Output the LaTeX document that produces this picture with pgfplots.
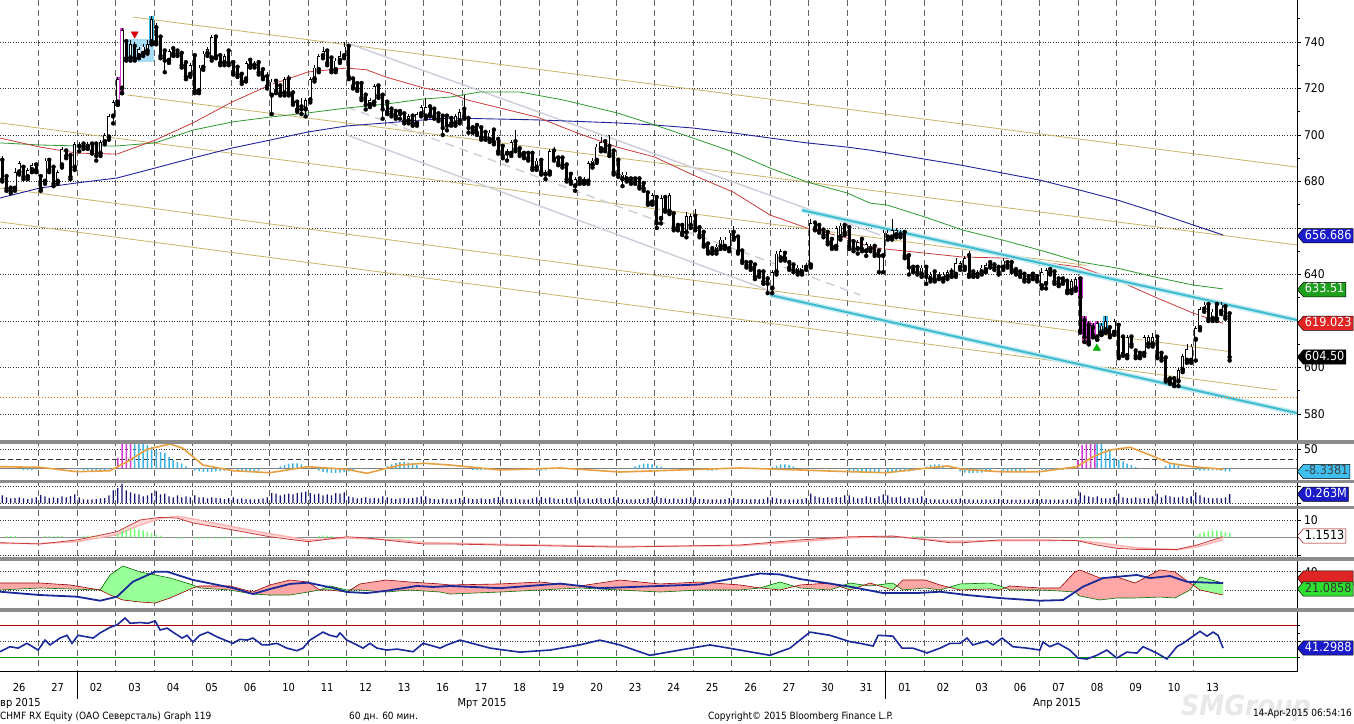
\documentclass[border=0pt]{standalone}
\usepackage{pgfplots}
\pgfplotsset{compat=1.18}
\usepackage{pgfplotstable}
\usetikzlibrary{shapes.symbols}
\usepackage{fontspec}
\setmainfont{DejaVu Sans Condensed}

\definecolor{olv}{HTML}{C8B466}
\definecolor{maR}{HTML}{C83C3C}
\definecolor{maG}{HTML}{2E9A2E}
\definecolor{maB}{HTML}{22229A}
\definecolor{gry}{HTML}{CDCEDA}
\definecolor{cyn}{HTML}{3DBCD0}
\definecolor{sepc}{HTML}{8C8C8C}
\definecolor{volc}{HTML}{141470}
\definecolor{hcy}{HTML}{3CB4E6}
\definecolor{hmg}{HTML}{D23CD2}
\definecolor{orl}{HTML}{E8A040}
\definecolor{tagB}{HTML}{1A1AC8}
\definecolor{tagG}{HTML}{1EA01E}
\definecolor{tagR}{HTML}{E02424}
\definecolor{tagC}{HTML}{40C0F0}
\definecolor{tagLG}{HTML}{30E030}
\definecolor{rsiB}{HTML}{1A2A9A}

\pgfplotstableread{
t o h l c v
0.06 689 691 680 681 0.23
0.17 682 683 676 677 0.17
0.28 677 678 675 676 0.14
0.39 677 686 676 684 0.15
0.50 684 689 683 688 0.17
0.61 686 687 681 682 0.14
0.72 682 686 681 685 0.12
0.83 685 688 684 687 0.14
0.94 687 688 684 685 0.17
1.06 682 683 676 677 0.24
1.17 680 690 679 689 0.20
1.28 689 690 684 685 0.15
1.39 686 687 678 679 0.17
1.50 680 685 679 684 0.15
1.61 687 695 686 694 0.20
1.72 693 694 690 691 0.17
1.83 691 692 681 682 0.21
1.94 686 697 685 696 0.26
2.06 695 697 693 696 0.17
2.17 696 697 694 695 0.11
2.28 695 697 694 696 0.10
2.39 696 697 692 693 0.11
2.50 696 697 689 691 0.12
2.61 692 698 691 697 0.14
2.72 697 701 696 700 0.15
2.83 699 709 698 708 0.23
2.94 708 715 705 714 0.38
3.06 714 725 713 724 0.45
3.17 720 746 718 745 0.58
3.28 740 741 732 733 0.38
3.39 733 741 732 739 0.32
3.50 738 740 732 733 0.28
3.61 734 738 733 737 0.26
3.72 735 739 734 738 0.20
3.83 736 741 735 739 0.23
3.94 740 751 739 750 0.30
4.06 746 748 739 740 0.36
4.17 742 743 733 734 0.26
4.28 736 737 727 732 0.28
4.39 732 737 731 736 0.20
4.50 737 738 734 735 0.17
4.61 736 737 734 735 0.23
4.72 735 736 729 730 0.17
4.83 731 732 724 725 0.20
4.94 726 731 725 730 0.17
5.06 734 735 718 719 0.23
5.17 719 730 718 729 0.17
5.28 729 736 728 735 0.17
5.39 735 738 734 737 0.14
5.50 733 743 732 742 0.17
5.61 742 743 733 734 0.15
5.72 734 735 730 731 0.14
5.83 731 735 730 734 0.12
5.94 736 737 730 731 0.15
6.06 731 732 726 727 0.17
6.17 729 730 725 726 0.12
6.28 726 727 722 723 0.14
6.39 724 732 723 731 0.12
6.50 732 733 729 730 0.11
6.61 730 732 729 731 0.11
6.72 731 732 726 727 0.12
6.83 728 729 724 725 0.14
6.94 725 727 720 721 0.17
7.06 717 724 709 723 0.30
7.17 723 724 718 719 0.28
7.28 721 722 717 718 0.23
7.39 718 725 717 724 0.26
7.50 724 726 717 718 0.28
7.61 718 719 713 714 0.26
7.72 714 715 710 711 0.30
7.83 712 716 709 711 0.32
7.94 711 716 708 715 0.34
8.06 715 725 714 724 0.30
8.17 724 730 723 729 0.26
8.28 728 735 727 734 0.28
8.39 734 738 733 736 0.23
8.50 736 737 730 731 0.26
8.61 733 734 727 728 0.23
8.72 728 733 727 732 0.30
8.83 732 736 731 734 0.28
8.94 734 740 733 738 0.32
9.06 738 739 724 725 0.20
9.17 724 725 720 721 0.17
9.28 722 723 719 720 0.14
9.39 722 723 715 716 0.15
9.50 717 718 711 713 0.17
9.61 713 716 712 715 0.14
9.72 714 722 713 721 0.15
9.83 721 722 716 717 0.14
9.94 717 718 707 711 0.20
10.06 714 715 709 710 0.17
10.17 711 712 708 709 0.14
10.28 710 711 707 708 0.12
10.39 710 711 707 709 0.14
10.50 709 710 705 706 0.15
10.61 706 709 705 708 0.14
10.72 708 709 704 705 0.15
10.83 705 710 704 709 0.17
10.94 709 713 708 712 0.20
11.06 708 716 707 712 0.20
11.17 712 713 708 709 0.14
11.28 711 712 707 708 0.12
11.39 709 710 706 707 0.11
11.50 708 709 700 703 0.14
11.61 708 709 702 704 0.12
11.72 707 708 704 705 0.11
11.83 705 709 704 708 0.12
11.94 706 711 705 710 0.15
12.06 711 717 707 708 0.18
12.17 707 708 701 703 0.14
12.28 703 704 701 702 0.12
12.39 704 705 700 701 0.12
12.50 703 704 698 699 0.14
12.61 701 702 698 699 0.12
12.72 698 702 697 701 0.12
12.83 702 703 696 697 0.15
12.94 698 699 692 693 0.18
13.06 695 696 690 691 0.17
13.17 692 694 689 693 0.12
13.28 692 698 691 697 0.12
13.39 697 702 693 694 0.14
13.50 694 695 691 692 0.11
13.61 692 693 690 691 0.11
13.72 692 693 689 690 0.11
13.83 692 693 685 686 0.14
13.94 686 690 685 689 0.17
14.06 689 690 683 684 0.18
14.17 683 685 681 684 0.14
14.28 684 694 683 693 0.17
14.39 693 695 689 690 0.14
14.50 690 691 687 688 0.12
14.61 690 691 686 687 0.12
14.72 687 688 680 681 0.15
14.83 683 684 679 680 0.14
14.94 678 682 676 681 0.18
15.06 681 682 679 680 0.17
15.17 680 682 679 681 0.12
15.28 680 689 679 688 0.14
15.39 687 690 686 689 0.12
15.50 689 696 688 695 0.14
15.61 694 699 693 697 0.15
15.72 697 698 693 694 0.12
15.83 695 700 691 692 0.14
15.94 693 694 683 684 0.18
16.06 689 690 682 683 0.17
16.17 681 684 678 683 0.12
16.28 681 684 680 683 0.11
16.39 681 682 679 680 0.11
16.50 681 682 679 680 0.11
16.61 681 682 677 678 0.12
16.72 679 680 676 677 0.12
16.83 675 676 670 671 0.15
16.94 671 675 670 674 0.17
17.06 673 674 660 662 0.20
17.17 664 674 662 673 0.15
17.28 673 674 667 668 0.14
17.39 667 675 666 674 0.12
17.50 666 667 659 660 0.14
17.61 661 662 659 660 0.12
17.72 661 662 657 658 0.12
17.83 658 667 656 665 0.14
17.94 661 666 660 665 0.17
18.06 665 668 659 660 0.17
18.17 660 661 656 657 0.12
18.28 658 659 652 653 0.12
18.39 653 654 649 650 0.11
18.50 651 652 649 650 0.11
18.61 650 653 649 652 0.11
18.72 652 656 651 655 0.11
18.83 652 656 651 655 0.12
18.94 651 659 650 658 0.15
19.06 658 661 655 656 0.15
19.17 656 657 649 650 0.12
19.28 650 651 645 646 0.12
19.39 645 646 643 644 0.11
19.50 645 646 642 643 0.11
19.61 644 645 638 639 0.12
19.72 641 642 639 640 0.11
19.83 641 642 636 637 0.12
19.94 638 639 632 636 0.17
20.06 634 642 632 641 0.17
20.17 641 650 640 649 0.14
20.28 647 651 646 650 0.12
20.39 649 650 646 647 0.11
20.50 645 646 642 643 0.11
20.61 644 645 641 642 0.11
20.72 641 644 640 643 0.11
20.83 641 644 640 643 0.12
20.94 643 645 642 644 0.15
21.06 644 664 643 662 0.28
21.17 662 663 659 660 0.20
21.28 661 662 658 659 0.17
21.39 659 660 656 657 0.15
21.50 658 659 653 654 0.17
21.61 655 656 651 652 0.15
21.72 652 661 651 660 0.18
21.83 656 662 655 661 0.17
21.94 661 662 657 658 0.23
22.06 660 661 651 652 0.23
22.17 654 655 650 651 0.17
22.28 651 655 649 654 0.14
22.39 655 656 650 651 0.15
22.50 650 654 648 653 0.20
22.61 651 653 650 652 0.17
22.72 652 653 648 649 0.15
22.83 650 651 641 648 0.20
22.94 648 659 641 658 0.26
23.06 656 659 655 658 0.23
23.17 656 664 655 659 0.17
23.28 657 660 656 659 0.17
23.39 657 659 656 658 0.20
23.50 658 659 647 648 0.15
23.61 648 649 640 643 0.17
23.72 643 644 641 642 0.14
23.83 643 644 640 641 0.15
23.94 640 644 639 643 0.20
24.06 643 644 636 639 0.15
24.17 638 641 637 640 0.11
24.28 641 642 637 638 0.11
24.39 639 641 638 640 0.10
24.50 638 641 637 640 0.11
24.61 639 642 638 641 0.10
24.72 641 643 639 640 0.11
24.83 640 647 639 645 0.12
24.94 643 646 642 645 0.14
25.06 643 648 642 647 0.12
25.17 648 650 639 640 0.11
25.28 641 642 639 640 0.10
25.39 640 642 639 641 0.10
25.50 641 644 640 643 0.10
25.61 642 645 641 644 0.11
25.72 645 646 643 644 0.10
25.83 644 645 642 643 0.11
25.94 643 644 640 641 0.12
26.06 643 647 642 646 0.12
26.17 645 646 643 644 0.10
26.28 645 646 641 642 0.10
26.39 642 643 640 641 0.10
26.50 641 642 639 640 0.10
26.61 640 641 637 638 0.10
26.72 639 640 637 638 0.10
26.83 640 641 638 639 0.11
26.94 639 640 637 638 0.12
27.06 635 643 634 641 0.12
27.17 636 643 634 642 0.11
27.28 642 643 640 641 0.10
27.39 641 642 636 637 0.10
27.50 638 639 635 636 0.10
27.61 638 639 636 637 0.10
27.72 637 638 632 633 0.11
27.83 633 638 632 637 0.11
27.94 634 639 633 638 0.14
28.06 638 639 615 616 0.32
28.17 620 622 611 613 0.23
28.28 618 620 610 611 0.20
28.39 617 619 613 614 0.17
28.50 613 620 612 619 0.20
28.61 615 619 614 618 0.15
28.72 616 622 615 620 0.14
28.83 617 618 613 614 0.14
28.94 615 621 614 620 0.18
29.06 618 619 604 605 0.28
29.17 613 614 605 606 0.17
29.28 605 614 604 613 0.15
29.39 613 614 609 610 0.14
29.50 607 608 604 605 0.17
29.61 606 607 604 605 0.14
29.72 606 614 605 613 0.15
29.83 610 614 609 613 0.14
29.94 610 615 609 613 0.20
30.06 613 614 604 605 0.28
30.17 606 607 603 604 0.17
30.28 604 605 594 595 0.23
30.39 595 596 593 594 0.20
30.50 595 596 592 593 0.17
30.61 594 600 592 599 0.17
30.72 599 606 598 605 0.20
30.83 603 610 602 608 0.15
30.94 603 610 602 609 0.20
31.06 612 618 603 617 0.32
31.17 617 626 616 625 0.23
31.28 625 628 624 627 0.17
31.39 627 628 620 621 0.15
31.50 621 625 620 624 0.14
31.61 627 628 620 621 0.15
31.72 624 628 623 627 0.14
31.83 626 627 621 622 0.17
31.94 623 624 603 604.5 0.263
}\candles

\pgfplotsset{
  panel/.style={
    scale only axis, width=1297pt, xmin=0, xmax=33.69,
    anchor=north west, clip=false,
    axis line style={draw=none},
    xtick=\empty, xtick pos=top, xticklabel pos=bottom,
    ymajorgrids, y grid style={draw=black!80, dash pattern=on 1pt off 1.6pt, line width=0.55pt},
    ytick pos=right, yticklabel pos=right, tick align=outside,
    major tick length=3.5pt, minor tick length=2.5pt,
    tick style={black, line width=0.6pt},
    yticklabel style={font=\fontsize{12}{13}\selectfont, xshift=0pt},
    /pgf/number format/assume math mode=true,
  },
  candle/.style={only marks, mark=none, error bars/.cd, y dir=plus, y explicit, error mark=none},
}
\tikzset{tag/.style={signal, signal to=west, signal pointer angle=100, draw=black, line width=0.5pt,
  inner xsep=1.6pt, inner ysep=1.6pt, anchor=west, font=\fontsize{12.5}{13}\selectfont,
  text height=9pt, text depth=2.2pt}}

\begin{document}
\begin{tikzpicture}[x=1pt,y=1pt]
\fill[white] (0,0) rectangle (1354,-723);
\useasboundingbox (0,0) rectangle (1354,-723);
% vertical day-boundary grid (behind everything)
\foreach \k in {1,...,31} {
  \draw[black!62, line width=0.6pt, dash pattern=on 6pt off 4pt] ({\k*38.498},0) -- ({\k*38.498},-671);
}

% ---------------- main price panel ----------------
\begin{axis}[panel, at={(0pt,0pt)}, height=439pt, ymin=569.25, ymax=758.06,
  ytick={580,600,...,740}, yticklabels={580,600,{},640,{},680,700,720,740}, minor ytick={590,610,...,750}]
\addplot[olv, line width=0.8pt] coordinates {(3.45,750.7)(33.69,686.2)};
\addplot[olv, line width=0.8pt] coordinates {(3.32,717.2)(33.69,652.7)};
\addplot[olv, line width=0.8pt] coordinates {(0,705.2)(28.23,643.9)};
\addplot[olv, line width=0.8pt] coordinates {(0,677.2)(32.0,606.7)};
\addplot[olv, line width=0.8pt] coordinates {(0,662.6)(33.17,590.3)};
\addplot[gry, line width=1.4pt] coordinates {(9.01,739.6)(22.86,657.0)};
\addplot[gry, line width=1.4pt, dash pattern=on 9pt off 6pt] coordinates {(9.01,712.0)(22.34,631.2)};
\addplot[gry, line width=1.4pt] coordinates {(9.01,700.0)(20.08,632.5)};
\addplot[maB, line width=0.9pt] coordinates {(0,672.9)(1.04,677.2)(2.0,679.4)(3.04,681.5)(4.03,685.8)(5.01,690.1)(6.03,694.4)(7.01,697.8)(8.0,701.3)(9.01,703.9)(10.03,705.2)(11.01,706.5)(11.69,707.3)(13.95,706.5)(16.03,705.2)(17.01,704.3)(18.0,703.0)(19.04,700.9)(20.0,698.7)(20.96,696.6)(22.0,694.8)(22.6,693.5)(24.94,687.1)(27.01,680.6)(28.05,676.3)(29.01,672.1)(30.0,666.9)(30.99,661.3)(31.77,657.0)};
\addplot[maG, line width=0.8pt] coordinates {(0,696.6)(1.04,695.7)(2.0,695.3)(3.04,695.3)(4.03,696.6)(5.01,702.1)(6.03,705.6)(7.01,707.7)(8.0,709.5)(9.01,711.6)(10.03,713.3)(11.01,715.5)(11.69,716.3)(12.47,718.5)(13.5,718.5)(14.62,715.1)(16.03,709.5)(17.01,704.3)(18.0,698.7)(19.04,692.7)(20.0,685.8)(20.96,679.8)(22.0,675.1)(22.6,670.7)(23.04,669.9)(24.03,664.7)(25.01,659.1)(26.05,654.8)(27.01,650.5)(28.05,645.4)(29.01,642.8)(30.0,638.9)(30.99,635.5)(31.77,633.8)};
\addplot[maR, line width=0.8pt] coordinates {(0,698.7)(1.04,694.8)(2.0,692.2)(3.04,691.8)(4.03,697.8)(5.01,705.2)(6.03,714.2)(7.01,721.5)(8.0,727.1)(9.01,728.8)(9.53,728.0)(10.03,724.9)(11.01,720.2)(11.69,718.1)(12.13,715.1)(13.95,707.7)(14.99,700.9)(16.03,694.8)(17.01,690.5)(18.0,682.8)(19.04,675.5)(20.0,665.6)(20.96,660.0)(22.0,655.7)(22.6,651.8)(23.04,650.9)(24.03,649.2)(25.01,647.5)(26.05,647.1)(27.01,645.4)(28.05,643.2)(29.01,637.6)(30.0,630.3)(30.99,623.4)(31.77,619.0)};
\addplot[cyn!30, line width=5pt] coordinates {(20.83,667.7)(33.69,620.4)};
\addplot[cyn, line width=2pt] coordinates {(20.83,667.7)(33.69,620.4)};
\addplot[cyn!30, line width=5pt] coordinates {(20.0,631.2)(33.69,580.4)};
\addplot[cyn, line width=2pt] coordinates {(20.0,631.2)(33.69,580.4)};
\addplot[orange!90!black, line width=1pt, dash pattern=on 1.2pt off 1.8pt] coordinates {(0,586.9)(33.69,586.9)};
\addplot[fill=hcy!45, draw=none] coordinates {(3.24,731.5)(3.99,731.5)(3.99,741.5)(3.24,741.5)} --cycle;
\addplot[candle, error bar style={hmg, line width=4.5pt}] coordinates {
 (3.06,713) +- (0,12) (3.17,718) +- (0,28)
 (28.06,630) +- (0,9) (28.17,611) +- (0,11) (28.28,610) +- (0,10) (28.39,613) +- (0,6) (28.50,612) +- (0,8)};
\addplot[candle, error bar style={hcy, line width=4.5pt}] coordinates {
 (3.94,739) +- (0,12) (28.72,615) +- (0,7) (28.61,614) +- (0,5)};
\addplot[candle, error bar style={black, line width=0.7pt}]
  table[x=t, y=l, y error plus expr=\thisrow{h}-\thisrow{l}] {\candles};
\addplot[candle, error bar style={black, line width=3pt}]
  table[x=t, y expr={min(\thisrow{o},\thisrow{c})}, y error plus expr={max(abs(\thisrow{c}-\thisrow{o}),0.5)}] {\candles};
\addplot[candle, error bar style={white, line width=1.6pt}]
  table[x=t, y expr={\thisrow{o}+0.33}, y error plus expr={max(\thisrow{c}-\thisrow{o}-0.66,0)}] {\candles};
\addplot[only marks, mark=triangle*, mark size=4.2pt, mark options={fill=red!85!black, draw=red!85!black, rotate=180}] coordinates {(3.50,743.5)};
\addplot[only marks, mark=triangle*, mark size=4.2pt, mark options={fill=green!70!black, draw=green!70!black}] coordinates {(28.49,608.3)};
\node[tag, fill=tagB, text=white] at (axis cs:33.69,656.686) {656.686};
\node[tag, fill=tagG, text=white] at (axis cs:33.69,633.51) {633.51};
\node[tag, fill=tagR, text=white] at (axis cs:33.69,619.023) {619.023};
\node[tag, fill=black, text=white] at (axis cs:33.69,604.50) {604.50};
\end{axis}

% ---------------- panel 2 ----------------
\begin{axis}[panel, at={(0pt,-443.5pt)}, height=36pt, ymin=-29, ymax=64.2, ytick={50}]
\addplot[black!50, line width=0.6pt] coordinates {(0,0)(33.69,0)};
\addplot[black!80, line width=0.6pt, dash pattern=on 5pt off 3pt] coordinates {(0,23)(33.69,23)};
\addplot[ybar, bar width=1.5pt, fill=hcy, draw=none] coordinates {
(0.61,-4)(0.72,-5)(0.83,-5)(0.94,-3)
(2.06,-3)(2.17,-4)(2.28,-5)(2.39,-6)(2.50,-6)(2.61,-5)(2.72,-4)(2.83,-3)
(3.50,64)(3.61,64)(3.72,63)(3.83,60)(3.94,55)(4.06,47)(4.17,42)(4.28,40)(4.39,29)(4.50,21)(4.61,16)(4.72,13)(4.83,5)
(5.06,-6)(5.17,-8)(5.28,-9)(5.39,-9)(5.50,-9)(5.61,-8)(5.72,-7)(5.83,-6)
(6.17,-5)(6.28,-7)(6.39,-8)(6.50,-8)(6.61,-7)(6.72,-6)
(7.28,5)(7.39,9)(7.50,12)(7.61,13)(7.72,13)(7.83,10)(7.94,6)
(8.28,-6)(8.39,-9)(8.50,-11)(8.61,-12)(8.72,-12)(8.83,-11)(8.94,-10)(9.06,-8)(9.17,-6)
(10.06,6)(10.17,10)(10.28,14)(10.39,16)(10.50,16)(10.61,15)(10.72,12)(10.83,8)
(12.28,-4)(12.39,-5)(12.50,-5)(12.61,-4)
(13.83,-5)(13.94,-6)(14.06,-6)(14.17,-5)
(16.50,5)(16.61,9)(16.72,12)(16.83,12)(16.94,10)(17.06,7)(17.17,4)
(18.28,-4)(18.39,-6)(18.50,-6)(18.61,-5)
(20.06,4)(20.17,7)(20.28,10)(20.39,10)(20.50,8)(20.61,5)
(22.06,-8)(22.17,-10)(22.28,-10)(22.39,-10)(22.50,-10)(22.61,-9)(22.72,-10)(22.83,-10)(23.06,-9)(23.17,-10)(23.28,-10)(23.39,-9)(23.50,-8)(23.61,-8)(23.72,-6)
(24.06,5)(24.17,9)(24.28,10)(24.39,10)(24.50,7)
(24.94,-8)(25.06,-11)(25.17,-12)(25.28,-12)(25.39,-12)(25.50,-11)(25.61,-10)(25.72,-8)
(26.06,-6)(26.17,-8)(26.28,-8)(26.39,-8)(26.50,-7)(26.61,-6)
(27.06,-4)(27.17,-5)(27.28,-5)(27.39,-5)(27.50,-4)(27.61,-4)(27.72,-3)
(28.50,64)(28.61,64)(28.72,47)(28.83,47)(28.94,27)(29.06,22)(29.17,18)(29.28,12)(29.39,8)(29.50,3)
(30.28,6)(30.39,10)(30.50,13)(30.61,10)
(31.06,-4)(31.17,-6)(31.28,-6)(31.39,-6)(31.50,-5)(31.61,-5)(31.72,-6)(31.83,-8)(31.94,-8)};
\addplot[ybar, bar width=1.5pt, fill=hmg, draw=none] coordinates {
(3.06,27)(3.17,64)(3.28,64)(3.39,64)(28.00,21)(28.11,60)(28.22,64)(28.33,64)(28.44,64)};
\addplot[orl, line width=1.6pt] coordinates {(0,4.1)(1.04,2.6)(2.0,-8.8)(2.86,-6.2)(3.3,17.1)(3.82,49.2)(4.42,63)(4.75,51.8)(5.27,8.5)(6.05,-6.2)(7.01,-11.4)(8.0,4.1)(9.01,-2.6)(9.53,-13)(10.39,8.5)(11.01,13)(11.69,8.5)(12.99,-4.4)(14.55,0.8)(16.1,-9.6)(17.66,-4.4)(19.22,0.8)(20.78,-4.4)(22.08,-8.8)(23.04,-11.4)(24.03,0)(24.6,6)(25.01,-2.6)(25.97,-8.8)(27.01,-8.8)(27.97,4.1)(28.39,30)(28.83,47.4)(29.35,54.4)(29.87,34.5)(30.39,13)(30.99,4.1)(31.77,-2.6)};
\node[tag, fill=tagC, text=black!75] at (axis cs:33.69,-8.3381) {-8.3381};
\end{axis}

% ---------------- panel 3: volume ----------------
\begin{axis}[panel, at={(0pt,-483pt)}, height=23pt, ymin=-0.09, ymax=0.6, ytick={0,0.49}, yticklabels={}]
\addplot[ybar, bar width=1.3pt, fill=volc, draw=none] table[x=t, y=v] {\candles};
\node[tag, fill=tagB, text=white] at (axis cs:33.69,0.263) {0.263M};
\end{axis}

% ---------------- panel 4 ----------------
\begin{axis}[panel, at={(0pt,-509pt)}, height=48pt, ymin=-11.26, ymax=16.17, ytick={-10,10}, yticklabels={{},10}]
\addplot[black!45, line width=0.6pt] coordinates {(0,0)(33.69,0)};
\addplot[fill=red!15, draw=none] coordinates {(0,-3.5)(1.04,-3.6)(2.0,-2.5)(3.04,1.5)(3.64,7)(4.16,10.8)(4.6,12)(5.01,10.5)(6.05,6)(7.01,2)(8.0,-1.5)(9.01,-0.5)(10.39,-1.5)(11.01,-3)(12.99,-4)(16.1,-5.2)(19.22,-4.8)(20.78,-2.5)(22.08,-0.3)(23.19,0.5)(24.68,-2.2)(25.97,-2)(27.97,-1.8)(28.49,-3)(29.53,-6)(30.57,-7.2)(31.09,-5.5)(31.77,-1.5)
 (31.77,0.3)(31.09,-4.4)(30.57,-6.9)(29.53,-6.9)(29.01,-6.3)(28.49,-4.4)(27.97,-1.9)(27.01,-1.5)(25.97,-1.5)(25.01,-3.1)(24.68,-3.1)(24.08,-1.5)(23.19,0.7)(22.08,0.3)(20.78,-1.5)(19.22,-4.4)(17.66,-5)(16.1,-5.6)(14.55,-5)(12.99,-4.4)(11.69,-3.8)(11.01,-3.8)(10.39,-2.5)(9.53,-0.4)(9.01,0.3)(8.0,-2.5)(7.01,0.3)(6.05,4.2)(5.01,8.2)(4.6,11)(4.16,11.4)(3.64,9.9)(3.04,3.2)(2.0,-1.5)(1.04,-3.8)(0,-3.1)} --cycle;
\addplot[red!30, line width=1.4pt] coordinates {(0,-3.5)(1.04,-3.6)(2.0,-2.5)(3.04,1.5)(3.64,7)(4.16,10.8)(4.6,12)(5.01,10.5)(6.05,6)(7.01,2)(8.0,-1.5)(9.01,-0.5)(10.39,-1.5)(11.01,-3)(12.99,-4)(16.1,-5.2)(19.22,-4.8)(20.78,-2.5)(22.08,-0.3)(23.19,0.5)(24.68,-2.2)(25.97,-2)(27.97,-1.8)(28.49,-3)(29.53,-6)(30.57,-7.2)(31.09,-5.5)(31.77,-1.5)};
\addplot[ybar, bar width=1.5pt, fill=green!55, draw=none] coordinates {
(0.17,0.7)(0.28,0.7)(0.39,0.7)(1.17,0.7)(1.28,0.8)(1.39,0.8)(1.50,0.8)(1.61,0.7)(2.17,1)(2.28,1)(2.39,1)(2.50,1)
(3.06,2)(3.17,3.5)(3.28,4.5)(3.39,5)(3.50,5)(3.61,4.5)(3.72,4)(3.83,3)(3.94,2.5)(4.06,1.5)(4.17,1)
(4.61,-0.7)(4.72,-0.7)(5.06,-0.8)(5.17,-0.8)(5.28,-0.8)(5.39,-0.8)(5.61,-0.8)(5.72,-0.8)(5.83,-0.8)(6.06,-0.8)(6.17,-0.8)(6.28,-0.8)(6.50,-0.7)(6.61,-0.7)
(8.28,0.8)(8.39,0.9)(8.50,0.9)(8.61,0.8)
(10.06,-0.7)(10.17,-0.8)(10.28,-0.8)(10.39,-0.8)(10.50,-0.7)(10.61,-0.7)
(23.72,0.7)(23.83,0.7)(23.94,0.7)(24.06,0.6)
(28.06,-0.7)(28.17,-0.8)(28.28,-0.8)(28.39,-0.8)(28.50,-0.7)(28.61,-0.7)(29.17,-0.6)(29.28,-0.6)(29.39,-0.6)
(31.06,1)(31.17,2)(31.28,3)(31.39,3.5)(31.50,4)(31.61,4)(31.72,3.5)(31.83,3)(31.94,2.5)};
\addplot[maR, line width=0.8pt] coordinates {(0,-3.1)(1.04,-3.8)(2.0,-1.5)(3.04,3.2)(3.64,9.9)(4.16,11.4)(4.6,11)(5.01,8.2)(6.05,4.2)(7.01,0.3)(8.0,-2.5)(9.01,0.3)(9.53,-0.4)(10.39,-2.5)(11.01,-3.8)(11.69,-3.8)(12.99,-4.4)(14.55,-5)(16.1,-5.6)(17.66,-5)(19.22,-4.4)(20.78,-1.5)(22.08,0.3)(23.19,0.7)(24.08,-1.5)(24.68,-3.1)(25.01,-3.1)(25.97,-1.5)(27.01,-1.5)(27.97,-1.9)(28.49,-4.4)(29.01,-6.3)(29.53,-6.9)(30.57,-6.9)(31.09,-4.4)(31.77,0.3)};
\node[tag, fill=white, text=black, draw=red!60!black] at (axis cs:33.69,0.74) {1.1513};
\end{axis}

% ---------------- panel 5 ----------------
\begin{axis}[panel, at={(0pt,-560.5pt)}, height=47.5pt, ymin=0.33, ymax=52.2, ytick={20,40}, yticklabels={{},40}]
\addplot[fill=red!35, draw=none] coordinates {(0,20)(1.04,22.2)(1.82,21.1)(2.6,20)(2.86,36.4)(3.19,46.2)(3.64,39.7)(4.03,36.4)(4.42,33.1)(5.01,25.5)(5.19,22.2)(5.97,20)(6.57,15.6)(7.01,14.5)(7.53,14.5)(8.0,17.8)(8.31,20)(8.57,24.4)(9.01,20)(9.35,20)(10.03,17.8)(10.65,20)(11.43,17.8)(11.69,15.6)(12.99,17.8)(14.03,20)(15.06,22.2)(16.1,20)(17.14,17.8)(18.18,20)(19.22,20)(19.74,22.2)(20.26,28.7)(20.78,22.2)(21.56,20)(22.08,27.6)(22.6,24.4)(23.19,27.6)(23.45,20)(24.03,22.2)(24.42,20)(24.94,26.6)(25.71,27.6)(25.97,24.4)(26.23,20)(27.01,20)(27.53,18.9)(27.92,17.8)(28.05,13.4)(28.57,9.1)(29.01,11.3)(29.48,11.3)(30.13,12.3)(30.52,11.3)(30.91,20)(31.17,34.2)(31.77,27.6)
 (31.77,14.5)(31.17,20)(30.91,27.6)(30.52,39.7)(30.13,41.9)(29.48,27.6)(29.01,34.2)(28.57,33.1)(28.05,41.9)(27.92,39.7)(27.53,22.2)(27.01,22.2)(26.23,24.4)(25.97,20)(25.71,21.1)(24.94,20)(24.42,25.5)(24.03,30.9)(23.45,30.9)(23.19,20)(22.6,27.6)(22.08,20)(21.56,27.6)(20.78,25.5)(20.26,20)(19.74,22.2)(19.22,25.5)(18.18,28.7)(17.14,26.6)(16.1,30.9)(15.06,24.4)(14.03,28.7)(12.99,26.6)(11.69,25.5)(11.43,26.6)(10.65,28.7)(10.03,30.9)(9.35,26.6)(9.01,17.8)(8.57,20)(8.31,20)(8.0,28.7)(7.53,30.9)(7.01,25.5)(6.57,17.8)(5.97,24.4)(5.19,24.4)(5.01,22.2)(4.42,11.3)(4.03,5.8)(3.64,6.9)(3.19,9.1)(2.86,14.5)(2.6,20)(1.82,25.5)(1.04,27.6)(0,27.6)} --cycle;
\addplot[fill=green!40, draw=none] coordinates {(2.6,20)(2.86,36.4)(3.19,46.2)(3.64,39.7)(4.03,36.4)(4.42,33.1)(5.01,25.5)(5.1,23.6)(5.01,22.2)(4.42,11.3)(4.03,5.8)(3.64,6.9)(3.19,9.1)(2.86,14.5)} --cycle;
\addplot[fill=green!40, draw=none] coordinates {(8.31,20)(8.57,24.4)(9.01,20)(9.095,20)(9.01,17.8)(8.57,20)} --cycle;
\addplot[fill=green!40, draw=none] coordinates {(19.74,22.2)(20.26,28.7)(20.64,24)(20.26,20)} --cycle;
\addplot[fill=green!40, draw=none] coordinates {(21.82,23.8)(22.08,27.6)(22.45,25.3)(22.08,20)} --cycle;
\addplot[fill=green!40, draw=none] coordinates {(22.77,25.35)(23.19,27.6)(23.30,24.5)(23.19,20)} --cycle;
\addplot[fill=green!40, draw=none] coordinates {(24.66,23)(24.94,26.6)(25.71,27.6)(25.97,24.4)(26.1,22.2)(25.97,20)(25.71,21.1)(24.94,20)} --cycle;
\addplot[fill=green!40, draw=none] coordinates {(31.0,25)(31.17,34.2)(31.77,27.6)(31.77,14.5)(31.17,20)} --cycle;
\addplot[green!45!black, line width=0.6pt] coordinates {(0,20)(1.04,22.2)(1.82,21.1)(2.6,20)(2.86,36.4)(3.19,46.2)(3.64,39.7)(4.03,36.4)(4.42,33.1)(5.01,25.5)(5.19,22.2)(5.97,20)(6.57,15.6)(7.01,14.5)(7.53,14.5)(8.0,17.8)(8.31,20)(8.57,24.4)(9.01,20)(9.35,20)(10.03,17.8)(10.65,20)(11.43,17.8)(11.69,15.6)(12.99,17.8)(14.03,20)(15.06,22.2)(16.1,20)(17.14,17.8)(18.18,20)(19.22,20)(19.74,22.2)(20.26,28.7)(20.78,22.2)(21.56,20)(22.08,27.6)(22.6,24.4)(23.19,27.6)(23.45,20)(24.03,22.2)(24.42,20)(24.94,26.6)(25.71,27.6)(25.97,24.4)(26.23,20)(27.01,20)(27.53,18.9)(27.92,17.8)(28.05,13.4)(28.57,9.1)(29.01,11.3)(29.48,11.3)(30.13,12.3)(30.52,11.3)(30.91,20)(31.17,34.2)(31.77,27.6)};
\addplot[red!60!black, line width=0.6pt] coordinates {(0,27.6)(1.04,27.6)(1.82,25.5)(2.6,20)(2.86,14.5)(3.19,9.1)(3.64,6.9)(4.03,5.8)(4.42,11.3)(5.01,22.2)(5.19,24.4)(5.97,24.4)(6.57,17.8)(7.01,25.5)(7.53,30.9)(8.0,28.7)(8.31,20)(8.57,20)(9.01,17.8)(9.35,26.6)(10.03,30.9)(10.65,28.7)(11.43,26.6)(11.69,25.5)(12.99,26.6)(14.03,28.7)(15.06,24.4)(16.1,30.9)(17.14,26.6)(18.18,28.7)(19.22,25.5)(19.74,22.2)(20.26,20)(20.78,25.5)(21.56,27.6)(22.08,20)(22.6,27.6)(23.19,20)(23.45,30.9)(24.03,30.9)(24.42,25.5)(24.94,20)(25.71,21.1)(25.97,20)(26.23,24.4)(27.01,22.2)(27.53,22.2)(27.92,39.7)(28.05,41.9)(28.57,33.1)(29.01,34.2)(29.48,27.6)(30.13,41.9)(30.52,39.7)(30.91,27.6)(31.17,20)(31.77,14.5)};
\addplot[rsiB, line width=1.8pt] coordinates {(0,18.1)(1.04,14.5)(2.0,12.7)(2.6,8.3)(3.04,12.7)(3.45,29)(4.03,40)(4.34,40)(5.01,31)(5.53,26.6)(6.05,22.2)(6.57,15.6)(7.01,21)(7.53,26.6)(8.0,28)(8.65,22.2)(9.01,17.8)(9.53,16.7)(10.05,19.2)(10.83,24.4)(11.25,23.3)(11.69,24.4)(12.99,22)(14.55,27)(15.58,22)(16.88,24)(18.18,26)(19.74,38)(20.26,37)(20.78,32)(22.08,23.6)(22.94,16.7)(23.82,16.7)(24.42,18.1)(25.12,14.5)(25.97,11.2)(27.01,8.3)(27.61,9)(28.13,23.6)(28.65,33)(29.53,36.4)(29.87,33)(30.39,35.3)(30.83,29)(31.43,28)(31.77,27.6)};
\node[tag, fill=tagR, text=white] at (axis cs:33.69,33) {\phantom{21.0858}};
\node[tag, fill=tagLG, text=black!80] at (axis cs:33.69,21.0858) {21.0858};
\end{axis}

% ---------------- panel 6: RSI ----------------
\begin{axis}[panel, at={(0pt,-611.5pt)}, height=59.5pt, ymin=13.4, ymax=87.75, ytick={50}, yticklabels={{}}, minor ytick={30,40,60,70},
  extra x ticks={0.5,1.5,...,31.5},
  extra x tick labels={26,27,02,03,04,05,06,10,11,12,13,16,17,18,19,20,23,24,25,26,27,30,31,01,02,03,06,07,08,09,10,13},
  extra x tick style={grid=none},
  xticklabel style={font=\fontsize{11}{12}\selectfont, yshift=-5pt}]
\addplot[red!70!black, line width=0.7pt] coordinates {(0,70)(33.69,70)};
\addplot[green!60!black, line width=0.7pt] coordinates {(0,30)(33.69,30)};
\addplot[rsiB, line width=1.6pt] coordinates {(0,37.5)(0.26,43.8)(0.47,42)(0.70,48)(0.99,39.6)(1.17,52)(1.30,46)(1.56,54.6)(1.74,58)(1.87,48)(2.03,58)(2.26,56)(2.42,54.6)(2.60,61)(2.86,68)(3.04,71)(3.25,79.6)(3.38,73)(3.64,74)(3.84,73)(4.03,76)(4.16,64.6)(4.34,67)(4.49,62)(4.73,54.6)(4.86,58)(5.01,49.6)(5.19,58)(5.40,62)(5.64,56)(5.84,52)(6.05,48)(6.23,53)(6.42,52)(6.57,54.6)(6.81,46)(6.94,46)(7.19,48)(7.45,42)(7.71,38.8)(7.87,42)(8.05,52)(8.39,62)(8.57,58)(8.75,56)(8.83,61)(9.01,52)(9.27,46)(9.43,42)(9.61,48)(9.79,42)(10.05,39.6)(10.31,40.8)(10.57,38.8)(10.73,37.5)(10.99,48)(11.25,44.6)(11.43,42)(11.61,46)(11.95,52)(12.73,42)(13.5,37)(14.29,39.6)(15.06,46)(15.58,52)(16.1,46)(16.88,33)(17.66,39.6)(18.44,46)(19.22,39.6)(20.0,33)(20.52,42)(21.04,62)(21.56,58)(22.08,50)(22.34,48)(22.68,44.6)(22.81,58)(23.19,57)(23.43,42)(23.71,42)(24.08,36)(24.42,42)(24.68,48)(24.94,48)(25.12,54.6)(25.27,46)(25.64,51)(25.79,46)(26.03,54.6)(26.31,43.8)(26.68,42)(27.01,39.6)(27.09,49.6)(27.27,43.8)(27.48,48)(27.79,39.6)(28.0,29.6)(28.23,28.4)(28.49,33)(28.75,39.6)(29.01,29.6)(29.27,37)(29.53,35.8)(29.69,43.8)(30.05,35.8)(30.31,28.4)(30.57,43.8)(30.73,48)(31.17,63)(31.35,57)(31.51,62)(31.64,58)(31.77,42)};
\node[tag, fill=tagB, text=white] at (axis cs:33.69,42.1) {41.2988};
\end{axis}

% ---------------- frame, separators, texts ----------------
\draw[black, line width=0.9pt] (1297.5,0) -- (1297.5,-671);
\draw[black, line width=0.9pt] (0,-671) -- (1297.5,-671);
\foreach \a/\b in {440/443.5, 479.5/483, 506/509, 557/560.5, 608/611.5}
  \fill[sepc] (0,-\a) rectangle (1354,-\b);
\draw[black, line width=0.8pt] (77.5,-671) -- (77.5,-699);
\draw[black, line width=0.8pt] (885.5,-671) -- (885.5,-699);
\node[font=\bfseries\itshape\fontsize{28}{28}\selectfont, text=black!9, anchor=base, inner sep=0pt] at (1246,-715.5) {SMGroup};
\node[font=\fontsize{11}{12}\selectfont, anchor=west, inner sep=0pt] at (0,-704) {вр 2015};
\node[font=\fontsize{11}{12}\selectfont, anchor=center, inner sep=0pt] at (482,-704) {Мрт 2015};
\node[font=\fontsize{11}{12}\selectfont, anchor=center, inner sep=0pt] at (1057,-704) {Апр 2015};
\node[font=\fontsize{10}{11}\selectfont, anchor=west, inner sep=0pt] at (0,-716.5) {CHMF RX Equity (ОАО Северсталь) Graph 119};
\node[font=\fontsize{10}{11}\selectfont, anchor=west, inner sep=0pt] at (349,-716.5) {60 дн. 60 мин.};
\node[font=\fontsize{10}{11}\selectfont, anchor=west, inner sep=0pt] at (708,-716.5) {Copyright© 2015 Bloomberg Finance L.P.};
\node[font=\fontsize{10}{11}\selectfont, anchor=east, inner sep=0pt] at (1352,-714) {14-Apr-2015 06:54:16};
\end{tikzpicture}
\end{document}
